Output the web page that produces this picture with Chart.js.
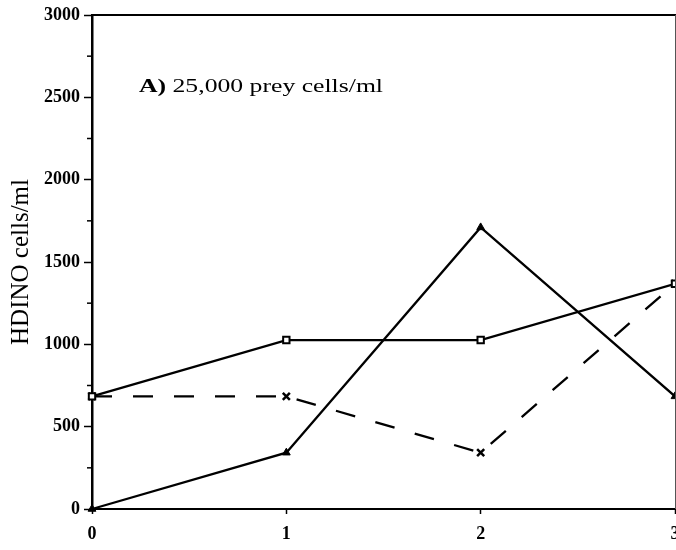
<!DOCTYPE html>
<html>
<head>
<meta charset="utf-8">
<script src="https://cdn.jsdelivr.net/npm/chart.js@4"></script>
<style>
  html, body { margin: 0; padding: 0; background: #fff; }
  #wrap { width: 676px; height: 550px; position: relative; }
</style>
</head>
<body>
<div id="wrap"><canvas id="c" width="676" height="550"></canvas></div>
<script>
// ---- data ----
const days = [0, 1, 2, 3];
const squareSeries = [684, 1026, 1026, 1368];
const triangleSeries = [0, 342, 1710, 684];
const crossSeries = [684, 684, 342, 1368];
const yTickValues = [0, 500, 1000, 1500, 2000, 2500, 3000];
const xTickValues = [0, 1, 2, 3];
const panelTitleBold = 'A)';
const panelTitleRest = ' 25,000 prey cells/ml';
const yAxisTitle = 'HDINO cells/ml';

const SERIF = '"Liberation Serif", "DejaVu Serif", serif';

function pts(arr) { return days.map((d, i) => ({ x: d, y: arr[i] })); }

const frame = {
  id: 'frame',
  afterDatasetsDraw(chart) {
    const { ctx, chartArea: a, scales } = chart;
    ctx.save();
    // top border
    ctx.strokeStyle = '#000';
    ctx.lineWidth = 2;
    ctx.beginPath();
    ctx.moveTo(a.left, a.top);
    ctx.lineTo(a.right + 1, a.top);
    ctx.stroke();
    // right border (thin)
    ctx.strokeStyle = '#555';
    ctx.lineWidth = 1;
    ctx.beginPath();
    ctx.moveTo(a.right + 0.5, a.top);
    ctx.lineTo(a.right + 0.5, a.bottom);
    ctx.stroke();
    // minor y ticks
    ctx.strokeStyle = '#000';
    ctx.lineWidth = 1.5;
    const ys = scales.y;
    for (let v = 250; v < 3000; v += 500) {
      const py = ys.getPixelForValue(v);
      ctx.beginPath();
      ctx.moveTo(a.left - 5, py);
      ctx.lineTo(a.left, py);
      ctx.stroke();
    }
    // panel title (horizontally stretched like the scanned original)
    ctx.fillStyle = '#000';
    ctx.textBaseline = 'alphabetic';
    const x0 = 139, y0 = 92, targetW = 244;
    ctx.font = 'bold 18px ' + SERIF;
    const wb = ctx.measureText(panelTitleBold).width;
    ctx.font = '18px ' + SERIF;
    const wr = ctx.measureText(panelTitleRest).width;
    const sx = targetW / (wb + wr);
    ctx.translate(x0, y0);
    ctx.scale(sx, 1);
    ctx.font = 'bold 18px ' + SERIF;
    ctx.fillText(panelTitleBold, 0, 0);
    ctx.font = '18px ' + SERIF;
    ctx.fillText(panelTitleRest, wb, 0);
    ctx.restore();
  }
};

const clipBox = { left: 12, top: 12, right: 0, bottom: 12 };

new Chart(document.getElementById('c'), {
  type: 'line',
  data: {
    datasets: [
      {
        label: 'squares',
        data: pts(squareSeries),
        borderColor: '#000',
        borderWidth: 2.3,
        pointStyle: 'rect',
        pointRadius: 4.5,
        pointBackgroundColor: '#fff',
        pointBorderColor: '#000',
        pointBorderWidth: 2,
        clip: clipBox
      },
      {
        label: 'triangles',
        data: pts(triangleSeries),
        borderColor: '#000',
        borderWidth: 2.3,
        pointStyle: 'triangle',
        pointRadius: 4.5,
        pointBackgroundColor: '#000',
        pointBorderColor: '#000',
        pointBorderWidth: 1,
        clip: clipBox
      },
      {
        label: 'crosses',
        data: pts(crossSeries),
        borderColor: '#000',
        borderWidth: 2.3,
        borderDash: [20, 21],
        pointStyle: 'crossRot',
        pointRadius: 5,
        pointBorderColor: '#000',
        pointBorderWidth: 2.5,
        clip: clipBox
      }
    ]
  },
  options: {
    responsive: false,
    animation: false,
    events: [],
    layout: { autoPadding: false, padding: { top: 15, right: 1, left: 0, bottom: 0 } },
    plugins: { legend: { display: false }, tooltip: { enabled: false }, title: { display: false } },
    scales: {
      x: {
        type: 'linear',
        min: 0, max: 3,
        afterBuildTicks(s) { s.ticks = xTickValues.map(v => ({ value: v })); },
        afterFit(s) { s.height = 41; s.paddingRight = 0; s.paddingLeft = 0; },
        border: { display: true, color: '#000', width: 2 },
        grid: { drawOnChartArea: false, drawTicks: true, tickLength: 5, color: '#000', tickColor: '#000', tickWidth: 1.5 },
        ticks: {
          color: '#000', padding: 10,
          font: { family: SERIF, size: 18, weight: 'bold' },
          maxRotation: 0,
          callback: v => String(v)
        }
      },
      y: {
        type: 'linear',
        min: 0, max: 3000,
        afterBuildTicks(s) { s.ticks = yTickValues.map(v => ({ value: v })); },
        afterFit(s) { s.width = 92; s.paddingTop = 0; s.paddingBottom = 0; },
        border: { display: true, color: '#000', width: 2.5 },
        grid: { drawOnChartArea: false, drawTicks: true, tickLength: 8, color: '#000', tickColor: '#000', tickWidth: 1.5 },
        ticks: {
          color: '#000', padding: 4,
          font: { family: SERIF, size: 18, weight: 'bold' },
          callback: v => String(v)
        },
        title: {
          display: true,
          text: yAxisTitle,
          color: '#000',
          font: { family: SERIF, size: 25 },
          padding: { top: 6, bottom: 0 }
        }
      }
    }
  },
  plugins: [frame]
});
</script>
</body>
</html>
